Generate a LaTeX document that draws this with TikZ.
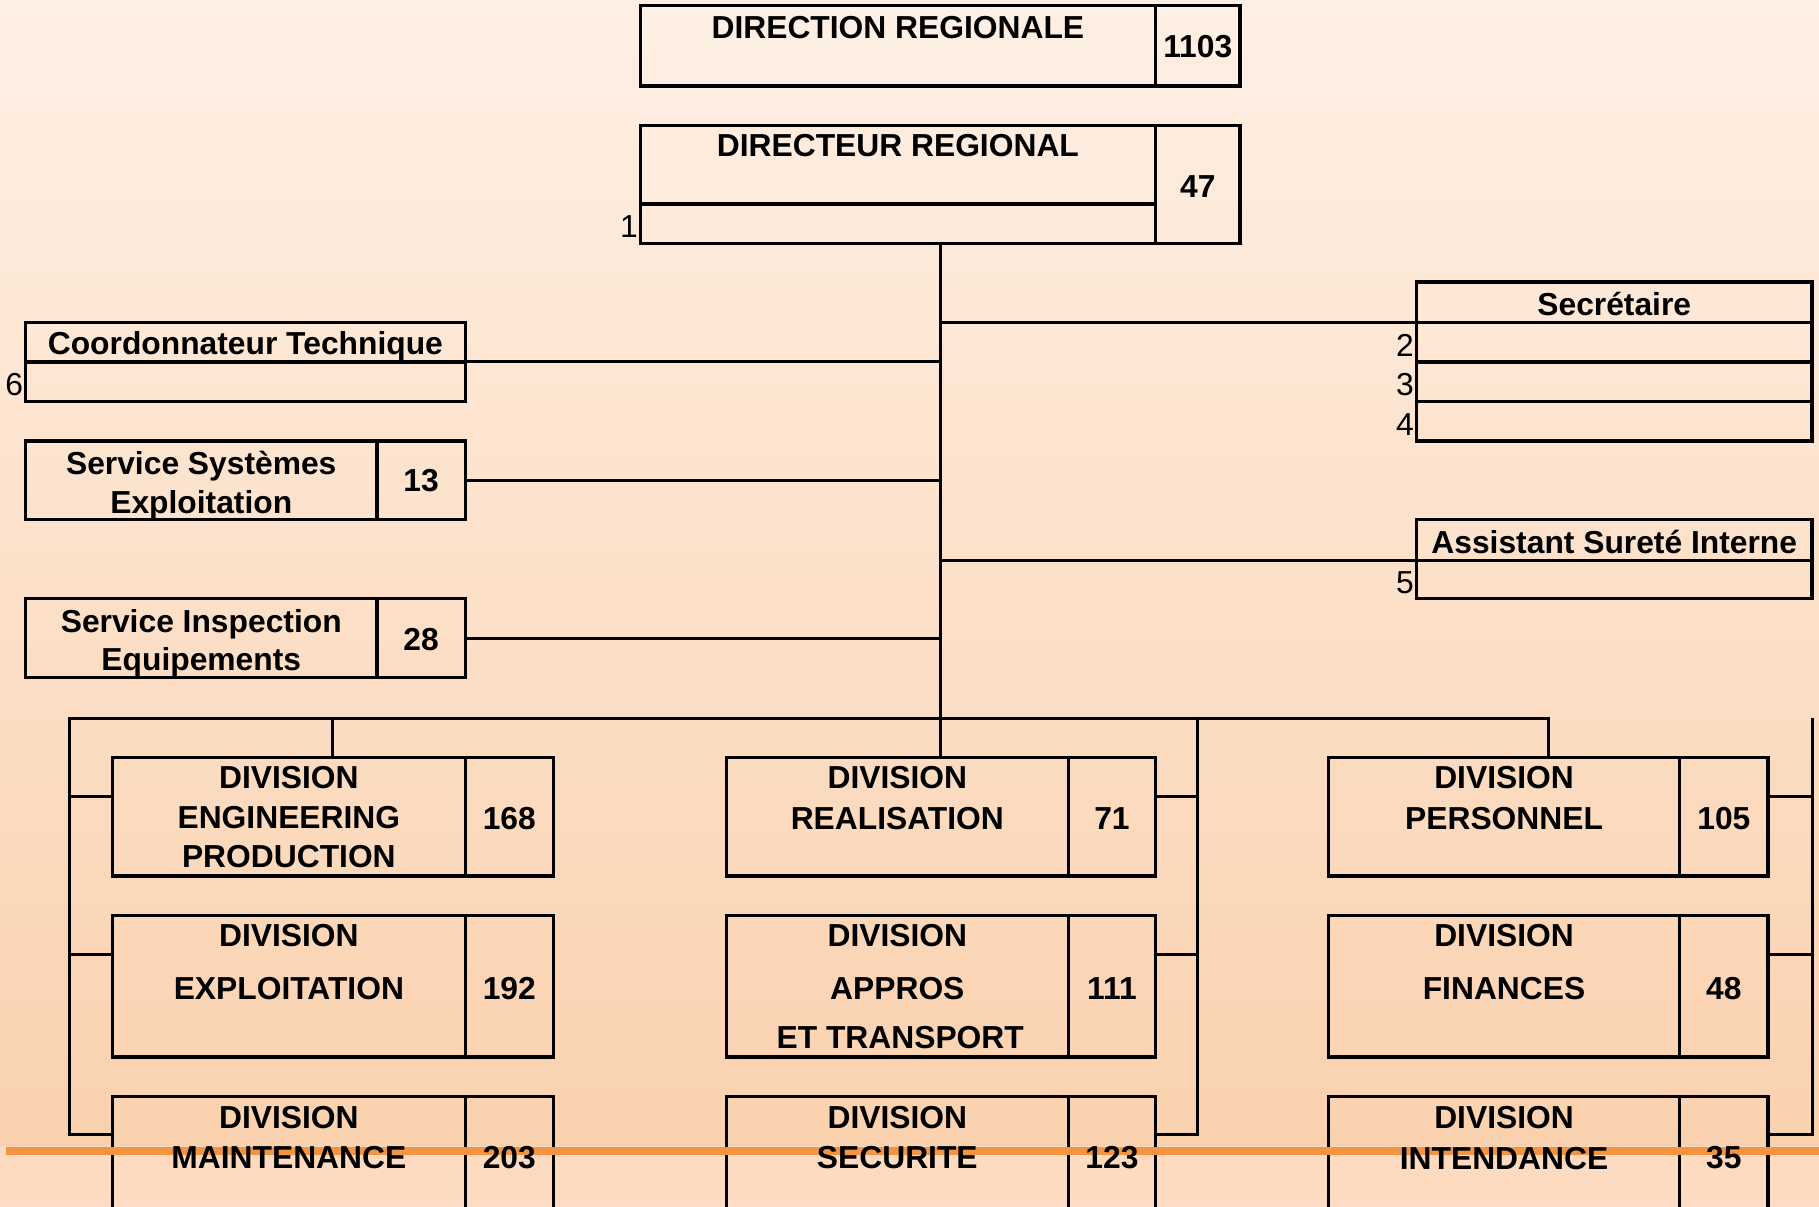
\documentclass[tikz,border=0pt]{standalone}
\usepackage{fontspec}
\setmainfont{Liberation Sans}
\usetikzlibrary{fit,calc}
\definecolor{bgtop}{HTML}{FEF0E5}
\definecolor{bgmid}{HTML}{FAD1AE}
\definecolor{bgbot}{HTML}{FDDCC3}
\definecolor{footer}{HTML}{F39443}
\tikzset{
 boxst/.style={draw=black, line width=2.9pt, inner sep=0pt, outer sep=0pt},
 hull/.style={inner sep=0pt, outer sep=0pt},
 conn/.style={draw=black, line width=2.6pt},
 lbl/.style={font=\fontsize{27.4}{32}\selectfont\bfseries, inner sep=0pt, anchor=base},
 idx/.style={font=\fontsize{27.4}{32}\selectfont, inner sep=0pt, anchor=base east},
 footerline/.style={draw=footer, line width=6.5pt},
}
\newcommand\numbox[6]{%
  \node[boxst, fit={(#2,#3) (#4,#6)}] (#1-m) {};
  \node[boxst, fit={(#4,#3) (#5,#6)}] (#1-n) {};
  \node[hull, fit={(#2,#3) (#5,#6)}] (#1) {};
}
\begin{document}
\begin{tikzpicture}[x=1pt,y=-1pt]
\useasboundingbox (0,0) rectangle (1568,1040);
\shade[top color=bgtop, bottom color=bgmid] (0,0) rectangle (1568,988);
\shade[top color=bgbot!80!bgmid, bottom color=bgbot] (0,988) rectangle (1568,1040);

% top boxes
\numbox{dirG}{552}{5}{996}{1069}{74}
\node[boxst, fit={(552,108) (996,176)}] (dirR-a) {};
\node[boxst, fit={(552,176) (996,210)}] (dirR-b) {};
\node[boxst, fit={(996,108) (1069,210)}] (dirR-n) {};
\node[hull, fit={(553,108) (1069,210)}] (dirR) {};

% secretaire
\node[boxst, fit={(1221,243) (1562,278)}] (sec-h) {};
\node[boxst, fit={(1221,278) (1562,312)}] (sec-1) {};
\node[boxst, fit={(1221,312) (1562,346)}] (sec-2) {};
\node[boxst, fit={(1221,346) (1562,380)}] (sec-3) {};
% assistant
\node[boxst, fit={(1221,448) (1562,483)}] (asi-h) {};
\node[boxst, fit={(1221,483) (1562,516)}] (asi-1) {};
% coordonnateur
\node[boxst, fit={(22,278) (401,312)}] (coo-h) {};
\node[boxst, fit={(22,312) (401,346)}] (coo-1) {};
% services
\numbox{sse}{22}{380}{325}{401}{448}
\numbox{sie}{22}{516}{325}{401}{584}

% divisions
\numbox{eng}{97}{653}{401}{477}{755}
\numbox{exp}{97}{789}{401}{477}{911}
\numbox{mai}{97}{945}{401}{477}{1048}
\numbox{rea}{626}{653}{921}{996}{755}
\numbox{app}{626}{789}{921}{996}{911}
\numbox{secu}{626}{945}{921}{996}{1048}
\numbox{per}{1145}{653}{1448}{1524}{755}
\numbox{fin}{1145}{789}{1448}{1524}{911}
\numbox{int}{1145}{945}{1448}{1524}{1048}

% connectors
\draw[conn] (dirR.south) -- (dirR.south |- rea.north);
\draw[conn] (sec-1.north west) -- (sec-1.north west -| dirR.south);
\draw[conn] (asi-1.north west) -- (asi-1.north west -| dirR.south);
\draw[conn] (coo-1.north east) -- (coo-1.north east -| dirR.south);
\draw[conn] (sse.east) -- (sse.east -| dirR.south);
\draw[conn] (sie.east) -- (sie.east -| dirR.south);

\coordinate (busL) at (60,619);
\coordinate (busM) at (1032,619);
\coordinate (busR) at (per.north |- busL);
\coordinate (busX) at (1562,619);
\draw[conn] ($(mai.north west)+(0,33)$) -| (busL) -- (busR) -- (per.north);
\draw[conn] (eng.north |- busL) -- (eng.north);
\draw[conn] ($(eng.north west)+(0,34)$) coordinate (e1) -- (e1 -| busL);
\draw[conn] ($(exp.north west)+(0,34)$) coordinate (e2) -- (e2 -| busL);

\draw[conn] (busM) |- ($(secu.north east)+(0,33)$);
\draw[conn] ($(rea.north east)+(0,34)$) coordinate (m1) -- (m1 -| busM);
\draw[conn] ($(app.north east)+(0,34)$) coordinate (m2) -- (m2 -| busM);

\draw[conn] (busX) |- ($(int.north east)+(0,33)$);
\draw[conn] ($(per.north east)+(0,34)$) coordinate (r1) -- (r1 -| busX);
\draw[conn] ($(fin.north east)+(0,34)$) coordinate (r2) -- (r2 -| busX);

% footer line
\draw[footerline] (5,992) -- (1568,992);

% texts
\node[lbl] (t-dg) at (774,33) {DIRECTION REGIONALE};
\node[lbl] (t-dgn) at (1032.5,50) {1103};
\node[lbl] (t-dr) at (774,135) {DIRECTEUR REGIONAL};
\node[lbl] (t-drn) at (1032.5,170) {47};
\node[idx] (i1) at (550,205) {1};

\node[lbl] (t-sec) at (1391.5,272) {Secrétaire};
\node[idx] (i2) at (1219,307) {2};
\node[idx] (i3) at (1219,341) {3};
\node[idx] (i4) at (1219,375) {4};
\node[lbl] (t-asi) at (1391.5,477) {Assistant Sureté Interne};
\node[idx] (i5) at (1219,512) {5};

\node[lbl] (t-coo) at (211.5,306) {Coordonnateur Technique};
\node[idx] (i6) at (20,341) {6};
\node[lbl] (t-sse1) at (173.5,409) {Service Systèmes};
\node[lbl] (t-sse2) at (173.5,443) {Exploitation};
\node[lbl] (t-ssen) at (363,424) {13};
\node[lbl] (t-sie1) at (173.5,545) {Service Inspection};
\node[lbl] (t-sie2) at (173.5,578) {Equipements};
\node[lbl] (t-sien) at (363,561) {28};

\node[lbl] (t-eng1) at (249,680) {DIVISION};
\node[lbl] (t-eng2) at (249,714) {ENGINEERING};
\node[lbl] (t-eng3) at (249,748) {PRODUCTION};
\node[lbl] (t-engn) at (439,715) {168};
\node[lbl] (t-exp1) at (249,816) {DIVISION};
\node[lbl] (t-exp2) at (249,862) {EXPLOITATION};
\node[lbl] (t-expn) at (439,862) {192};
\node[lbl] (t-mai1) at (249,973) {DIVISION};
\node[lbl] (t-mai2) at (249,1007) {MAINTENANCE};
\node[lbl] (t-main) at (439,1007) {203};

\node[lbl] (t-rea1) at (773.5,680) {DIVISION};
\node[lbl] (t-rea2) at (773.5,715) {REALISATION};
\node[lbl] (t-rean) at (958.5,715) {71};
\node[lbl] (t-app1) at (773.5,816) {DIVISION};
\node[lbl] (t-app2) at (773.5,862) {APPROS};
\node[lbl] (t-app3) at (776,904) {ET TRANSPORT};
\node[lbl] (t-appn) at (958.5,862) {111};
\node[lbl] (t-secu1) at (773.5,973) {DIVISION};
\node[lbl] (t-secu2) at (773.5,1007) {SECURITE};
\node[lbl] (t-secun) at (958.5,1007) {123};

\node[lbl] (t-per1) at (1296.5,680) {DIVISION};
\node[lbl] (t-per2) at (1296.5,715) {PERSONNEL};
\node[lbl] (t-pern) at (1486,715) {105};
\node[lbl] (t-fin1) at (1296.5,816) {DIVISION};
\node[lbl] (t-fin2) at (1296.5,862) {FINANCES};
\node[lbl] (t-finn) at (1486,862) {48};
\node[lbl] (t-int1) at (1296.5,973) {DIVISION};
\node[lbl] (t-int2) at (1296.5,1008) {INTENDANCE};
\node[lbl] (t-intn) at (1486,1007) {35};
\end{tikzpicture}
\end{document}
